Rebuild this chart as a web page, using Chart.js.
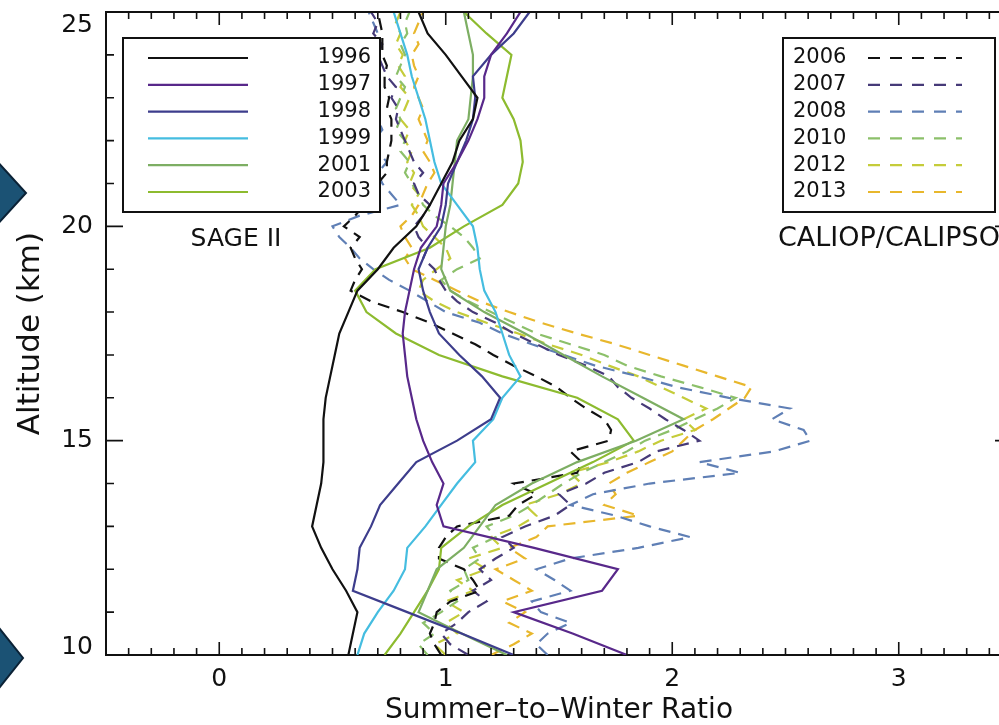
<!DOCTYPE html>
<html>
<head>
<meta charset="utf-8">
<script src="https://cdn.jsdelivr.net/npm/chart.js@4.4.0/dist/chart.umd.min.js"></script>
<style>
  html, body { margin: 0; padding: 0; background: #fff; overflow: hidden; }
  #wrap { width: 999px; height: 725px; overflow: hidden; }
  canvas { display: block; }
</style>
</head>
<body>
<div id="wrap"><canvas id="ratioChart" width="1030" height="725"></canvas></div>
<script>
// altitude grids (km)
const sageAltitudes = [10, 10.5, 11, 11.5, 12, 12.5, 13, 13.5, 14, 14.5, 15, 15.5, 16, 16.5, 17, 17.5,
  18, 18.5, 19, 19.5, 20, 20.5, 21, 21.5, 22, 22.5, 23, 23.5, 24, 24.5, 25];
const caliopAltitudes = [10, 10.25, 10.5, 10.75, 11, 11.25, 11.5, 11.75, 12, 12.25, 12.5, 12.75,
  13, 13.25, 13.5, 13.75, 14, 14.25, 14.5, 14.75, 15, 15.25, 15.5, 15.75, 16, 16.25, 16.5, 16.75,
  17, 17.25, 17.5, 17.75, 18, 18.25, 18.5, 18.75, 19, 19.25, 19.5, 19.75, 20, 20.25, 20.5, 20.75,
  21, 21.25, 21.5, 21.75, 22, 22.25, 22.5, 22.75, 23, 23.25, 23.5, 23.75, 24, 24.25, 24.5, 24.75, 25];

// SAGE II summer-to-winter ratios
const ratio1996 = [0.57, 0.59, 0.61, 0.56, 0.50, 0.45, 0.41, 0.43, 0.45, 0.46, 0.46, 0.46, 0.47, 0.49, 0.51, 0.53,
  0.57, 0.61, 0.70, 0.77, 0.87, 0.93, 0.98, 1.03, 1.06, 1.12, 1.14, 1.07, 1.00, 0.92, 0.88];
const ratio1997 = [1.80, 1.56, 1.30, 1.69, 1.76, 1.39, 0.99, 0.96, 0.99, 0.94, 0.90, 0.87, 0.85, 0.83, 0.82, 0.81,
  0.82, 0.84, 0.86, 0.89, 0.96, 0.98, 0.99, 1.05, 1.10, 1.14, 1.17, 1.17, 1.20, 1.27, 1.33];
const ratio1998 = [1.30, 1.07, 0.83, 0.59, 0.61, 0.62, 0.67, 0.71, 0.79, 0.87, 1.05, 1.20, 1.24, 1.16, 1.06, 0.97,
  0.93, 0.90, 0.88, 0.92, 0.98, 1.00, 1.01, 1.05, 1.09, 1.12, 1.13, 1.12, 1.20, 1.30, 1.37];
const ratio1999 = [0.61, 0.64, 0.70, 0.77, 0.82, 0.83, 0.91, 0.98, 1.05, 1.13, 1.12, 1.21, 1.25, 1.33, 1.28, 1.25,
  1.22, 1.17, 1.15, 1.14, 1.12, 1.05, 0.98, 0.95, 0.93, 0.91, 0.88, 0.85, 0.83, 0.80, 0.77];
const ratio2001 = [1.27, 1.07, 0.88, 0.92, 0.96, 1.08, 1.15, 1.22, 1.38, 1.58, 1.84, 2.05, 1.87, 1.69, 1.52, 1.35,
  1.17, 1.02, 0.98, 0.99, 1.00, 1.02, 1.03, 1.04, 1.05, 1.10, 1.11, 1.12, 1.12, 1.10, 1.08];
const ratio2003 = [0.73, 0.80, 0.86, 0.92, 0.97, 0.98, 1.10, 1.25, 1.45, 1.65, 1.83, 1.76, 1.58, 1.25, 0.97, 0.78,
  0.65, 0.60, 0.69, 0.93, 1.08, 1.25, 1.32, 1.34, 1.33, 1.30, 1.25, 1.27, 1.29, 1.18, 1.08];

// CALIOP/CALIPSO summer-to-winter ratios
const ratio2006 = [0.98, 0.95, 0.93, 0.95, 0.96, 1.02, 1.15, 1.12, 1.08, 0.97, 0.97, 1.00, 1.05, 1.28, 1.32, 1.40,
  1.30, 1.58, 1.60, 1.55, 1.72, 1.73, 1.70, 1.62, 1.55, 1.49, 1.40, 1.30, 1.21, 1.13, 1.03, 0.93,
  0.81, 0.67, 0.58, 0.60, 0.63, 0.60, 0.58, 0.62, 0.55, 0.60, 0.64, 0.68, 0.70, 0.74, 0.74, 0.75,
  0.76, 0.76, 0.76, 0.74, 0.75, 0.73, 0.73, 0.74, 0.72, 0.72, 0.72, 0.71, 0.70];
const ratio2007 = [1.10, 1.02, 0.98, 1.05, 1.10, 1.18, 1.12, 1.20, 1.15, 1.22, 1.30, 1.25, 1.35, 1.48, 1.55, 1.50,
  1.62, 1.70, 1.85, 1.93, 2.12, 2.05, 1.97, 1.90, 1.82, 1.76, 1.72, 1.62, 1.50, 1.40, 1.30, 1.22,
  1.12, 1.05, 1.00, 0.97, 0.95, 0.90, 0.92, 0.88, 0.86, 0.90, 0.93, 0.88, 0.86, 0.90, 0.86, 0.84,
  0.82, 0.80, 0.78, 0.79, 0.76, 0.78, 0.74, 0.72, 0.70, 0.72, 0.68, 0.70, 0.67];
const ratio2008 = [1.45, 1.40, 1.45, 1.55, 1.42, 1.38, 1.55, 1.48, 1.40, 1.55, 1.85, 2.08, 1.90, 1.75, 1.55, 1.65,
  1.90, 2.30, 2.12, 2.45, 2.61, 2.58, 2.44, 2.52, 2.25, 2.02, 1.85, 1.66, 1.52, 1.38, 1.25, 1.15,
  1.00, 0.92, 0.84, 0.75, 0.68, 0.62, 0.58, 0.53, 0.50, 0.62, 0.80, 0.76, 0.72, 0.70, 0.74, 0.70,
  0.68, 0.72, 0.70, 0.67, 0.70, 0.68, 0.66, 0.70, 0.68, 0.66, 0.70, 0.68, 0.66];
const ratio2010 = [0.92, 0.88, 0.95, 0.90, 0.98, 1.05, 1.02, 1.10, 1.08, 1.15, 1.12, 1.22, 1.18, 1.30, 1.38, 1.45,
  1.52, 1.60, 1.70, 1.80, 1.88, 2.00, 2.10, 2.20, 2.28, 2.12, 1.95, 1.80, 1.70, 1.55, 1.40, 1.30,
  1.20, 1.10, 1.02, 0.98, 1.05, 1.15, 1.12, 1.08, 1.02, 0.95, 0.90, 0.88, 0.85, 0.82, 0.84, 0.80,
  0.82, 0.78, 0.80, 0.78, 0.80, 0.82, 0.78, 0.80, 0.82, 0.80, 0.83, 0.82, 0.84];
const ratio2012 = [1.00, 0.95, 1.05, 1.00, 1.08, 1.00, 1.12, 1.05, 1.18, 1.10, 1.25, 1.20, 1.32, 1.40, 1.35, 1.50,
  1.60, 1.55, 1.72, 1.85, 1.95, 2.10, 2.05, 2.15, 2.05, 1.95, 1.85, 1.72, 1.60, 1.45, 1.32, 1.18,
  1.05, 0.95, 0.88, 0.90, 0.96, 1.02, 1.00, 0.95, 0.90, 0.88, 0.85, 0.88, 0.84, 0.86, 0.83, 0.85,
  0.82, 0.84, 0.80, 0.82, 0.84, 0.80, 0.82, 0.79, 0.81, 0.78, 0.80, 0.78, 0.80];
const ratio2013 = [1.20, 1.30, 1.38, 1.28, 1.35, 1.25, 1.38, 1.30, 1.22, 1.35, 1.28, 1.40, 1.45, 1.85, 1.70, 1.75,
  1.72, 1.80, 1.90, 2.00, 2.05, 2.10, 2.18, 2.25, 2.32, 2.35, 2.20, 2.05, 1.90, 1.75, 1.58, 1.42,
  1.28, 1.15, 1.05, 0.95, 0.85, 0.82, 0.85, 0.82, 0.80, 0.85, 0.88, 0.90, 0.92, 0.95, 0.93, 0.90,
  0.92, 0.90, 0.88, 0.90, 0.88, 0.86, 0.88, 0.86, 0.85, 0.88, 0.86, 0.88, 0.90];

const sageYears = ["1996", "1997", "1998", "1999", "2001", "2003"];
const sageSeries = [ratio1996, ratio1997, ratio1998, ratio1999, ratio2001, ratio2003];
const sageColors = ["#111111", "#58288a", "#3d3d8c", "#45bde0", "#7dae63", "#8dbb2f"];

const caliopYears = ["2006", "2007", "2008", "2010", "2012", "2013"];
const caliopSeries = [ratio2006, ratio2007, ratio2008, ratio2010, ratio2012, ratio2013];
const caliopColors = ["#111111", "#463a78", "#5f7fb5", "#8cc06a", "#c5cc3a", "#e8b72c"];

const xTickValues = [0, 1, 2, 3];
const yTickValues = [10, 15, 20, 25];

const FONT = '"DejaVu Sans", "Liberation Sans", sans-serif';
const DASH = [12, 8];

const toPoints = (alts, vals) => vals.map((v, i) => ({ x: v, y: alts[i] }));

const datasets = [];
sageSeries.forEach((vals, i) => {
  datasets.push({
    label: sageYears[i],
    group: "sage",
    data: toPoints(sageAltitudes, vals),
    borderColor: sageColors[i],
    borderWidth: 2.2,
    showLine: true,
    pointRadius: 0
  });
});
caliopSeries.forEach((vals, i) => {
  datasets.push({
    label: caliopYears[i],
    group: "caliop",
    data: toPoints(caliopAltitudes, vals),
    borderColor: caliopColors[i],
    borderWidth: 2.2,
    borderDash: DASH,
    showLine: true,
    pointRadius: 0
  });
});

// dark chevrons on the left page edge
const chevrons = {
  id: "chevrons",
  afterDraw(chart) {
    const ctx = chart.ctx;
    const shapes = [[160, 26, 193, 226], [624, 23, 658, 692]];
    ctx.save();
    shapes.forEach(([top, tipX, tipY, bot]) => {
      ctx.beginPath();
      ctx.moveTo(-4, top);
      ctx.lineTo(tipX, tipY);
      ctx.lineTo(-4, bot);
      ctx.closePath();
      ctx.fillStyle = "#1b5274";
      ctx.fill();
      ctx.lineWidth = 2;
      ctx.strokeStyle = "#0b2236";
      ctx.stroke();
    });
    ctx.restore();
  }
};

// box legends like the IDL figure
const boxLegends = {
  id: "boxLegends",
  afterDatasetsDraw(chart) {
    const ctx = chart.ctx;
    const sets = chart.data.datasets;
    const sage = sets.filter(d => d.group === "sage");
    const cal = sets.filter(d => d.group === "caliop");
    ctx.save();
    ctx.font = `21px ${FONT}`;
    ctx.textBaseline = "middle";

    // left box
    ctx.fillStyle = "#fff";
    ctx.fillRect(123, 38, 257, 174);
    ctx.strokeStyle = "#111";
    ctx.lineWidth = 2;
    ctx.strokeRect(123, 38, 257, 174);
    sage.forEach((d, i) => {
      const yy = 58 + i * 26.8;
      ctx.strokeStyle = d.borderColor;
      ctx.lineWidth = 2.2;
      ctx.setLineDash([]);
      ctx.beginPath();
      ctx.moveTo(148, yy);
      ctx.lineTo(248, yy);
      ctx.stroke();
      ctx.fillStyle = "#111";
      ctx.textAlign = "right";
      ctx.fillText(d.label, 371, yy);
    });

    // right box
    ctx.fillStyle = "#fff";
    ctx.fillRect(783, 38, 212, 174);
    ctx.strokeStyle = "#111";
    ctx.lineWidth = 2;
    ctx.strokeRect(783, 38, 212, 174);
    cal.forEach((d, i) => {
      const yy = 58 + i * 26.8;
      ctx.fillStyle = "#111";
      ctx.textAlign = "left";
      ctx.fillText(d.label, 793, yy);
      ctx.strokeStyle = d.borderColor;
      ctx.lineWidth = 2.2;
      ctx.setLineDash([12, 10]);
      ctx.beginPath();
      ctx.moveTo(868, yy);
      ctx.lineTo(962, yy);
      ctx.stroke();
    });
    ctx.setLineDash([]);

    ctx.fillStyle = "#111";
    ctx.font = `25px ${FONT}`;
    ctx.textAlign = "center";
    ctx.fillText("SAGE II", 236, 239);
    ctx.font = `27px ${FONT}`;
    ctx.textAlign = "left";
    ctx.fillText("CALIOP/CALIPSO", 778, 239);
    ctx.restore();
  }
};

// top/right frame, inward major and minor ticks, y tick labels kept inside the frame
const frameTicks = {
  id: "frameTicks",
  afterDraw(chart) {
    const { ctx, chartArea: a, scales: { x, y } } = chart;
    ctx.save();
    ctx.strokeStyle = "#111";
    ctx.lineWidth = 2;
    ctx.beginPath();
    ctx.moveTo(a.left, a.top);
    ctx.lineTo(a.right, a.top);
    ctx.lineTo(a.right, a.bottom);
    ctx.stroke();

    ctx.lineWidth = 1.6;
    ctx.beginPath();
    for (let k = -5; k <= 35; k++) {
      const px = x.getPixelForValue(k / 10);
      const len = k % 10 === 0 ? 13 : 7;
      ctx.moveTo(px, a.bottom);
      ctx.lineTo(px, a.bottom - len);
      ctx.moveTo(px, a.top);
      ctx.lineTo(px, a.top + len);
    }
    for (let k = 10; k <= 25; k++) {
      const py = y.getPixelForValue(k);
      const len = k % 5 === 0 ? 17 : 8;
      ctx.moveTo(a.left, py);
      ctx.lineTo(a.left + len, py);
      ctx.moveTo(a.right, py);
      ctx.lineTo(a.right - len, py);
    }
    ctx.stroke();

    ctx.fillStyle = "#111";
    ctx.font = `25px ${FONT}`;
    ctx.textAlign = "right";
    ctx.textBaseline = "middle";
    y.ticks.forEach(t => {
      const py = Math.min(Math.max(y.getPixelForValue(t.value), a.top + 13), a.bottom - 8);
      ctx.fillText(String(t.value), a.left - 13, py);
    });
    ctx.restore();
  }
};

new Chart(document.getElementById("ratioChart"), {
  type: "scatter",
  data: { datasets },
  options: {
    responsive: false,
    animation: false,
    layout: { padding: { top: 12, right: 18, left: 0, bottom: 0 } },
    plugins: { legend: { display: false }, tooltip: { enabled: false } },
    elements: { line: { tension: 0 } },
    scales: {
      x: {
        type: "linear",
        min: -0.5,
        max: 3.5,
        grid: { display: false },
        border: { display: true, color: "#111", width: 2 },
        afterBuildTicks: s => { s.ticks = xTickValues.map(v => ({ value: v })); },
        afterFit: s => { s.height = 70; },
        ticks: {
          color: "#111",
          font: { family: FONT, size: 25, lineHeight: 1 },
          padding: 4,
          maxRotation: 0,
          autoSkip: false,
          callback: v => String(v)
        },
        title: {
          display: true,
          text: "Summer–to–Winter Ratio",
          color: "#111",
          font: { family: FONT, size: 28, lineHeight: 1 },
          padding: { top: 0, bottom: 0 }
        }
      },
      y: {
        type: "linear",
        min: 10,
        max: 25,
        grid: { display: false },
        border: { display: true, color: "#111", width: 2 },
        afterBuildTicks: s => { s.ticks = yTickValues.map(v => ({ value: v })); },
        afterFit: s => { s.width = 106; },
        ticks: { display: false },
        title: {
          display: true,
          text: "Altitude (km)",
          color: "#111",
          font: { family: FONT, size: 31, lineHeight: 1 },
          padding: { top: 15, bottom: 0 }
        }
      }
    }
  },
  plugins: [frameTicks, boxLegends, chevrons]
});
</script>
</body>
</html>
